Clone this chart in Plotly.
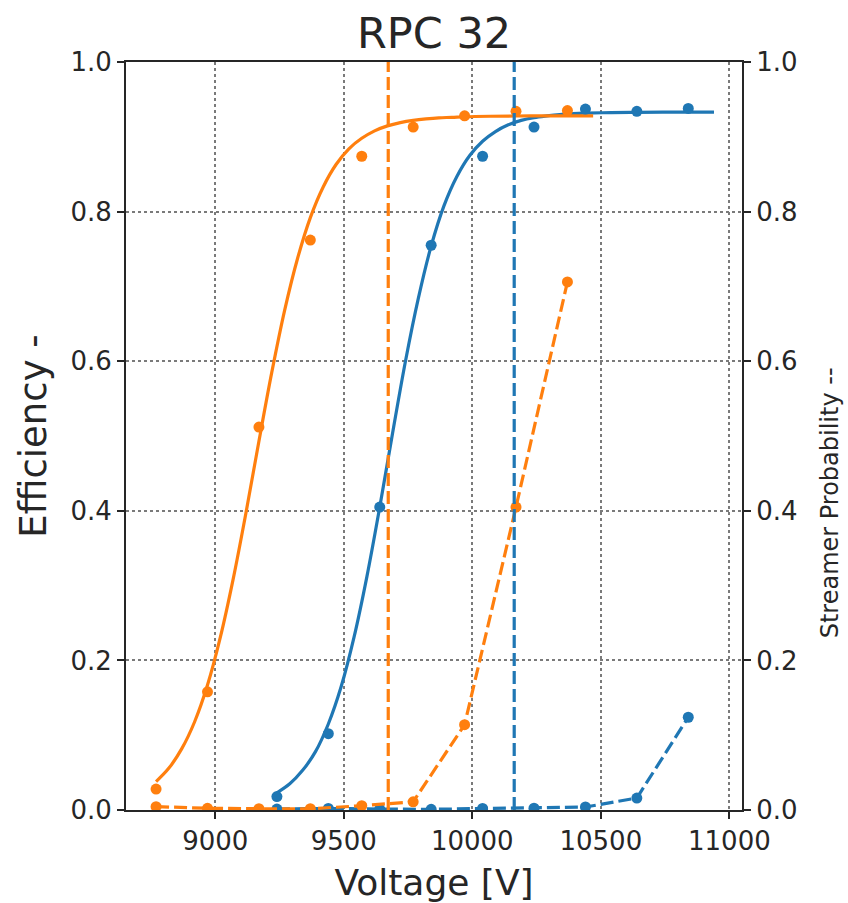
import plotly.graph_objects as go

# ---- data ----
volt_orange = [8770, 8970, 9170, 9370, 9570, 9770, 9970, 10170, 10370]
eff_orange = [0.028, 0.158, 0.512, 0.762, 0.874, 0.913, 0.928, 0.934, 0.935]
streamer_orange = [0.0045, 0.0023, 0.0017, 0.0017, 0.0057, 0.011, 0.114, 0.405, 0.706]

volt_blue = [9240, 9440, 9640, 9840, 10040, 10240, 10440, 10640, 10840]
eff_blue = [0.018, 0.102, 0.405, 0.755, 0.874, 0.913, 0.937, 0.934, 0.938]
streamer_blue = [0.0013, 0.002, 0.0013, 0.0009, 0.002, 0.0025, 0.004, 0.016, 0.124]

# fitted sigmoid curves
fit_volt_orange = [8770, 8820, 8870, 8920, 8970, 9020, 9070, 9120, 9170, 9220, 9270,
                   9320, 9370, 9420, 9470, 9520, 9570, 9620, 9670, 9720, 9770, 9820,
                   9870, 9920, 9970, 10070, 10170, 10270, 10370, 10470]
fit_eff_orange = [0.038, 0.056, 0.082, 0.118, 0.167, 0.231, 0.309, 0.398, 0.493, 0.585, 0.668,
                  0.737, 0.792, 0.833, 0.863, 0.884, 0.898, 0.908, 0.9146, 0.919, 0.922, 0.924,
                  0.9254, 0.926, 0.9268, 0.9275, 0.9278, 0.9279, 0.928, 0.928]

fit_volt_blue = [9240, 9290, 9340, 9390, 9440, 9490, 9540, 9590, 9640, 9690, 9740,
                 9790, 9840, 9890, 9940, 9990, 10040, 10090, 10140, 10190, 10240, 10290,
                 10340, 10390, 10440, 10540, 10640, 10740, 10840, 10940]
fit_eff_blue = [0.023, 0.035, 0.053, 0.078, 0.115, 0.165, 0.231, 0.312, 0.405, 0.504, 0.600,
                0.684, 0.754, 0.808, 0.847, 0.875, 0.894, 0.907, 0.916, 0.922, 0.9257, 0.928,
                0.9298, 0.9309, 0.9316, 0.9324, 0.9327, 0.9329, 0.933, 0.933]

# working points (vertical dashed lines)
wp_orange = 9673
wp_blue = 10163

x_ticks = [9000, 9500, 10000, 10500, 11000]
y_ticks = [0.0, 0.2, 0.4, 0.6, 0.8, 1.0]
x_range = [8653, 11049]

title_text = "RPC 32"
x_title = "Voltage [V]"
y_title = "Efficiency -"
y2_title = "Streamer Probability --"

# ---- styles ----
BLUE = "#1f77b4"
ORANGE = "#ff7f0e"
TEXT = "#262626"
FONT = "DejaVu Sans"
DASH = "13px,5px"
LW = 3.2

fig = go.Figure()

for color, fx, fy in [(BLUE, fit_volt_blue, fit_eff_blue),
                      (ORANGE, fit_volt_orange, fit_eff_orange)]:
    fig.add_trace(go.Scatter(x=fx, y=fy, mode="lines",
                             line=dict(color=color, width=LW, shape="spline", smoothing=1.0),
                             showlegend=False, hoverinfo="skip"))

for color, vx, vy in [(BLUE, volt_blue, eff_blue), (ORANGE, volt_orange, eff_orange)]:
    fig.add_trace(go.Scatter(x=vx, y=vy, mode="markers",
                             marker=dict(color=color, size=11),
                             showlegend=False))

for color, vx, vy in [(BLUE, volt_blue, streamer_blue), (ORANGE, volt_orange, streamer_orange)]:
    fig.add_trace(go.Scatter(x=vx, y=vy, mode="lines+markers", yaxis="y2",
                             line=dict(color=color, width=LW, dash=DASH),
                             marker=dict(color=color, size=11),
                             showlegend=False))

for color, wp in [(ORANGE, wp_orange), (BLUE, wp_blue)]:
    fig.add_shape(type="line", xref="x", yref="paper", x0=wp, x1=wp, y0=0, y1=1,
                  line=dict(color=color, width=LW, dash=DASH), layer="above")

axis_common = dict(
    showline=True, linecolor=TEXT, linewidth=2,
    ticks="outside", ticklen=7, tickwidth=1.5, tickcolor=TEXT,
    tickfont=dict(family=FONT, size=26, color=TEXT),
    zeroline=False, automargin=False,
)

fig.update_layout(
    width=848, height=903,
    margin=dict(l=126, r=106, t=62, b=93),
    paper_bgcolor="white", plot_bgcolor="white",
    font=dict(family=FONT, color=TEXT),
    title=dict(text=title_text, x=0.5, xref="paper", xanchor="center",
               y=1 - 33 / 903, yref="container", yanchor="middle",
               font=dict(family=FONT, size=43, color=TEXT)),
    xaxis=dict(range=x_range, tickvals=x_ticks, ticktext=[str(t) for t in x_ticks],
               mirror=True, showgrid=True, gridcolor="#7a7a7a", gridwidth=1.5, griddash="dot",
               title=dict(text=x_title, font=dict(family=FONT, size=36, color=TEXT), standoff=16),
               **axis_common),
    yaxis=dict(range=[0, 1], tickvals=y_ticks, ticktext=[f"{t:.1f}" for t in y_ticks],
               showgrid=True, gridcolor="#7a7a7a", gridwidth=1.5, griddash="dot",
               title=dict(text=y_title, font=dict(family=FONT, size=37, color=TEXT), standoff=12),
               **axis_common),
    yaxis2=dict(range=[0, 1], tickvals=y_ticks, ticktext=[f"{t:.1f}" for t in y_ticks],
                overlaying="y", side="right", showgrid=False,
                **axis_common),
    annotations=[dict(text=y2_title, xref="paper", yref="paper", x=1, xshift=88, y=0.41,
                      xanchor="center", yanchor="middle", textangle=-90, showarrow=False,
                      font=dict(family=FONT, size=24, color=TEXT))],
)

fig.write_html("out.html", config={"displayModeBar": False},
               post_script="document.body.style.margin='0';document.body.style.overflow='hidden';")
